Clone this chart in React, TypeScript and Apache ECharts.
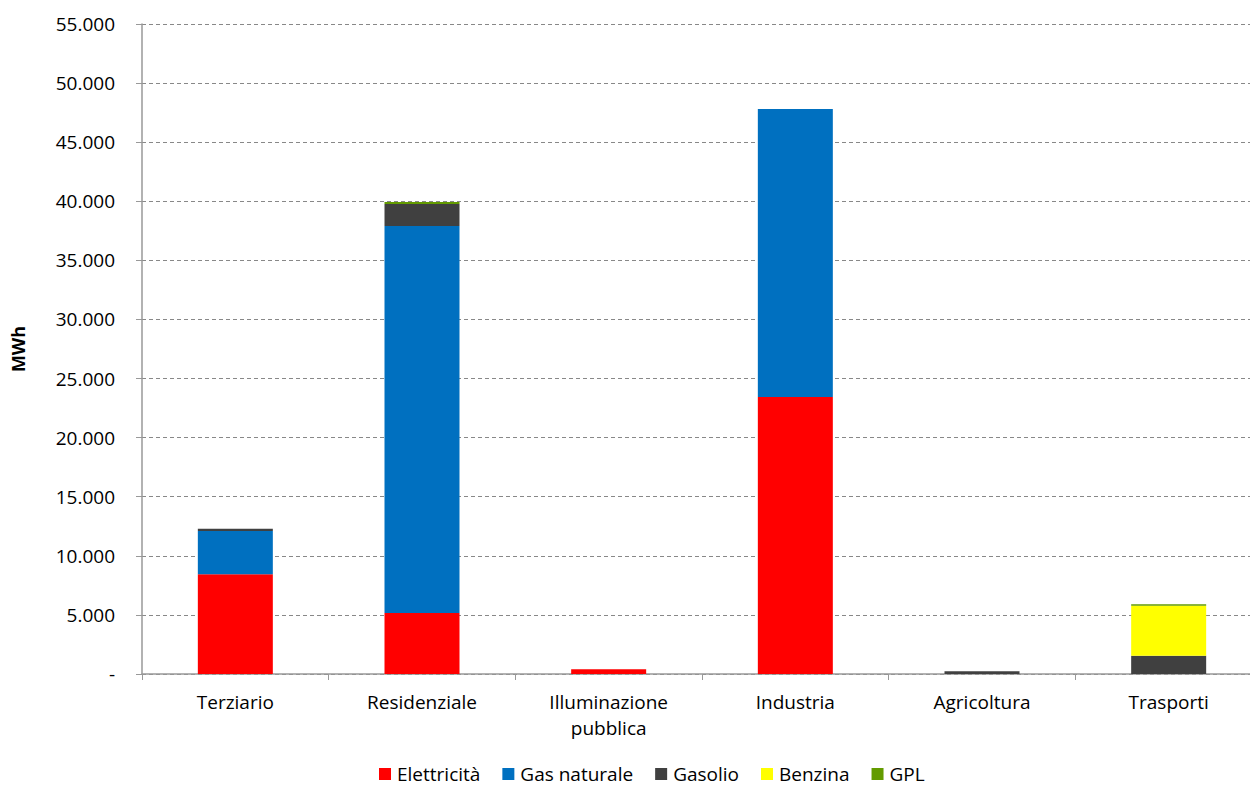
import React, { useEffect, useRef } from "react";
import * as echarts from "echarts";

const categories = ["Terziario", "Residenziale", "Illuminazione\npubblica", "Industria", "Agricoltura", "Trasporti"];
const elettricita = [8450, 5160, 400, 23440, 0, 0];
const gasNaturale = [3650, 32750, 0, 24370, 0, 0];
const gasolio = [200, 1860, 0, 0, 230, 1550];
const benzina = [0, 0, 0, 0, 0, 4230];
const gpl = [0, 170, 0, 0, 0, 120];
const yTicks = [0, 5000, 10000, 15000, 20000, 25000, 30000, 35000, 40000, 45000, 50000, 55000];

const seriesDefs = [
  { name: "Elettricità", data: elettricita, color: "#FF0000" },
  { name: "Gas naturale", data: gasNaturale, color: "#0070C0" },
  { name: "Gasolio", data: gasolio, color: "#404040" },
  { name: "Benzina", data: benzina, color: "#FFFF00" },
  { name: "GPL", data: gpl, color: "#639B00" },
];

const FONT = "'Open Sans', 'Noto Sans', sans-serif";

export default function App() {
  const ref = useRef<HTMLDivElement>(null);
  useEffect(() => {
    if (!ref.current) return;
    const chart = echarts.init(ref.current, null, { renderer: "svg" });
    chart.setOption({
      animation: false,
      backgroundColor: "#ffffff",
      textStyle: { fontFamily: FONT },
      grid: {
        left: 142,
        width: 1120,
        top: 24,
        height: 650,
        containLabel: false,
        outerBoundsMode: "none",
      },
      legend: {
        top: 764,
        left: 379,
        padding: 0,
        itemWidth: 12,
        itemHeight: 12,
        itemGap: 22,
        icon: "rect",
        textStyle: {
          fontSize: 19,
          lineHeight: 20,
          color: "#000",
          fontFamily: FONT,
          padding: [0, 0, 0, 1],
        },
        data: seriesDefs.map((s) => s.name),
      },
      xAxis: {
        type: "category",
        data: categories,
        axisLine: { lineStyle: { color: "#999", width: 1.5 } },
        axisTick: { show: true, length: 6, lineStyle: { color: "#999" }, alignWithLabel: false },
        axisLabel: { fontSize: 19, color: "#000", margin: 15, lineHeight: 26, fontFamily: FONT },
      },
      yAxis: {
        type: "value",
        min: yTicks[0],
        max: yTicks[yTicks.length - 1],
        interval: 5000,
        name: "MWh",
        nameLocation: "middle",
        nameGap: 115,
        nameRotate: 90,
        nameTextStyle: { fontSize: 18, fontWeight: "bold", color: "#000", fontFamily: FONT },
        axisLine: { show: true, lineStyle: { color: "#999", width: 1.5 } },
        axisTick: { show: true, length: 6, lineStyle: { color: "#999" } },
        splitLine: { lineStyle: { color: "#888", type: [4, 3], width: 1 } },
        axisLabel: {
          fontSize: 19,
          color: "#000",
          margin: 27,
          fontFamily: FONT,
          formatter: (v: number) => (v === 0 ? "-" : v.toLocaleString("it-IT").replace(/\s/g, ".")),
        },
      },
      series: seriesDefs.map((s) => ({
        name: s.name,
        type: "bar",
        stack: "total",
        barWidth: 75,
        data: s.data,
        itemStyle: { color: s.color },
      })),
    });
    return () => chart.dispose();
  }, []);
  return (
    <div
      ref={ref}
      style={{ position: "fixed", left: 0, top: 0, width: 1250, height: 785 }}
    />
  );
}
